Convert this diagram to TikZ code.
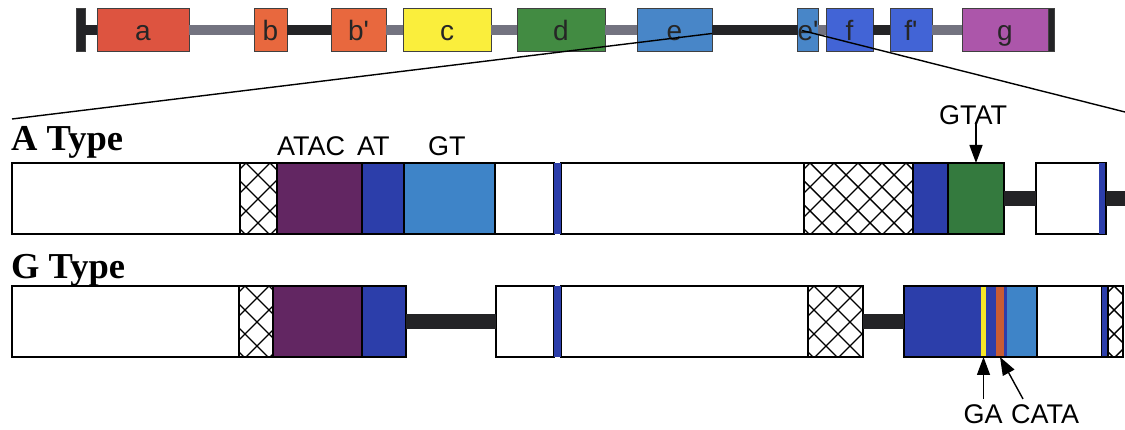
\documentclass[tikz,border=0pt]{standalone}
\usepackage{fontspec}
\setmainfont{Liberation Serif}
\setsansfont{Liberation Sans}[Ligatures=TeXOff]
\usetikzlibrary{arrows.meta,calc}
\definecolor{exA}{RGB}{221,84,64}
\definecolor{exB}{RGB}{232,104,62}
\definecolor{exC}{RGB}{250,238,60}
\definecolor{exD}{RGB}{66,139,66}
\definecolor{exE}{RGB}{72,134,200}
\definecolor{exF}{RGB}{66,100,214}
\definecolor{exG}{RGB}{172,86,170}
\definecolor{intG}{RGB}{115,115,128}
\definecolor{intK}{RGB}{35,35,38}
\definecolor{purp}{RGB}{98,38,98}
\definecolor{dblue}{RGB}{44,62,170}
\definecolor{lblue}{RGB}{62,132,200}
\definecolor{dgreen}{RGB}{52,122,62}
\definecolor{yel}{RGB}{245,230,40}
\definecolor{ora}{RGB}{200,92,52}
\newcommand{\seg}[5]{\node[seg,fill=#5,minimum width={(#3)-(#2)},anchor=north west] (#1) at (#2,#4) {};}
\newcommand{\stripe}[5]{\node[seg,draw=none,fill=#5,minimum width={(#3)-(#2)},anchor=north west] (#1) at (#2,#4) {};}
\newcommand{\hseg}[4]{\node[hatchbox,minimum width={(#3)-(#2)},anchor=north west] (#1) at (#2,#4) {};}
\begin{document}
\begin{tikzpicture}[x=1pt,y=-1pt,
  exon/.style={draw=black!75, line width=1pt, inner sep=0pt, outer sep=0pt, minimum height=43pt,
    font=\sffamily\fontsize{28}{28}\selectfont, text height=20pt, text depth=0pt, text=black!85},
  intronG/.style={line width=10pt, draw=intG},
  intronK/.style={line width=10pt, draw=intK},
  seg/.style={draw=black, line width=1.2pt, inner sep=0pt, outer sep=0pt, minimum height=71pt},
  hatchbox/.style={seg, fill=white, path picture={
    \foreach \k in {-5,...,14}{
      \draw[line width=1.4pt] ([xshift={\k*24pt+6pt-120pt}, yshift=120pt]path picture bounding box.north west) -- ++(300pt,-300pt);
      \draw[line width=1.4pt] ([xshift={\k*24pt+6pt}, yshift=120pt]path picture bounding box.north west) -- ++(-300pt,-300pt);
    }}},
  bar/.style={line width=15pt, draw=intK},
  zoomline/.style={line width=1.4pt, draw=black},
  seqlab/.style={font=\sffamily\fontsize{27}{27}\selectfont, inner sep=0pt, anchor=base west},
  typelab/.style={font=\bfseries\fontsize{36.5}{36.5}\selectfont, inner sep=0pt, anchor=base west},
  arr/.style={line width=1.4pt, -{Triangle[length=18pt,width=13pt]}}]
\useasboundingbox (0,0) rectangle (1125,430);

% ---- gene overview ----
\node[exon, fill=intK, minimum width=9pt] (lbar) at (80.5,30.5) {};
\node[exon, fill=exA, minimum width=92pt] (a) at (143,30.5) {a};
\node[exon, fill=exB, minimum width=33pt] (b) at (270.5,30.5) {b};
\node[exon, fill=exB, minimum width=55pt] (bp) at (358.5,30.5) {b'};
\node[exon, fill=exC, minimum width=88pt] (c) at (447,30.5) {c};
\node[exon, fill=exD, minimum width=88pt] (d) at (561,30.5) {d};
\node[exon, fill=exE, minimum width=75pt] (e) at (674.5,30.5) {e};
\node[exon, fill=exE, minimum width=18pt] (ep) at (808,30.5) {e'};
\node[exon, fill=exF, minimum width=47pt] (f) at (849.5,30.5) {f};
\node[exon, fill=exF, minimum width=42pt] (fp) at (911,30.5) {f'};
\node[exon, fill=exG, minimum width=86pt] (g) at (1005,30.5) {g};
\node[exon, fill=intK, minimum width=6pt] (rbar) at (1051,30.5) {};
\draw[intronK] (lbar) -- (a);
\draw[intronG] (a) -- (b);
\draw[intronK] (b) -- (bp);
\draw[intronG] (bp) -- (c);
\draw[intronG] (c) -- (d);
\draw[intronG] (d) -- (e);
\draw[intronK] (e) -- (ep);
\draw[intronG] (ep) -- (f);
\draw[intronK] (f) -- (fp);
\draw[intronG] (fp) -- (g);

% ---- zoom lines ----
\coordinate (zL) at (12,119);
\coordinate (zR) at (1125,112);
\draw[zoomline] (zL) -- ([yshift=-3pt]e.east);
\draw[zoomline] ([xshift=-6pt]ep.center) -- (zR);

% ---- A type ----
\node[typelab] (atype) at (11,151) {A Type};
\seg{Aw1}{12}{240}{163}{white}
\hseg{Ah1}{240}{277}{163}
\seg{Apu}{277}{362}{163}{purp}
\seg{Adb}{362}{404}{163}{dblue}
\seg{Alb}{404}{495}{163}{lblue}
\seg{Aw2}{495}{554}{163}{white}
\seg{Aw3}{561}{804}{163}{white}
\stripe{Ast}{554}{561}{163}{dblue}
\hseg{Ah2}{804}{913}{163}
\seg{Adb2}{913}{948}{163}{dblue}
\seg{Agr}{948}{1004}{163}{dgreen}
\seg{Aw4}{1036}{1106}{163}{white}
\stripe{Ast2}{1099}{1106}{163}{dblue}
\draw[line width=1.2pt] (Ast2.north east) -- (Ast2.south east);
\coordinate (Aend) at (1125,198.5);
\draw[bar] (Agr) -- (Aw4);
\draw[bar] (Aw4.east) -- (Aend);
\node[seqlab] (atac) at (277,156) {ATAC};
\node[seqlab] (at) at (357,156) {AT};
\node[seqlab] (gt) at (428,156) {GT};
\node[seqlab, anchor=base] (gtat) at (973,125) {GTAT};
\path (Agr.north) coordinate (gtatTip);
\draw[arr] (gtat.base -| gtatTip) ++(0,-3) -- (gtatTip);

% ---- G type ----
\node[typelab] (gtype) at (11,279) {G Type};
\seg{Gw1}{12}{239}{286}{white}
\hseg{Gh1}{239}{273}{286}
\seg{Gpu}{273}{362}{286}{purp}
\seg{Gdb}{362}{406}{286}{dblue}
\seg{Gw2}{496}{554}{286}{white}
\seg{Gw3}{561}{808}{286}{white}
\stripe{Gst}{554}{561}{286}{dblue}
\hseg{Gh2}{808}{863}{286}
\stripe{Gdb2}{904}{981}{286}{dblue}
\stripe{Gye}{981}{986}{286}{yel}
\stripe{Gd3}{986}{996}{286}{dblue}
\stripe{Gor}{996}{1004}{286}{ora}
\stripe{Gd4}{1004}{1007}{286}{dblue}
\stripe{Glb}{1007}{1037}{286}{lblue}
\seg{Gw4}{1037}{1102}{286}{white}
\stripe{Gst2}{1102}{1108}{286}{dblue}
\hseg{Gh3}{1108}{1123}{286}
\draw[line width=1.2pt] (Gdb2.north west) rectangle (Gh3.south east);
\draw[bar] (Gdb) -- (Gw2);
\draw[bar] (Gh2) -- (Gdb2);
\node[seqlab, anchor=base] (ga) at (983,424) {GA};
\node[seqlab] (cata) at (1011,424) {CATA};
\path (Gye.south) coordinate (gaTip);
\path (Gor.south) coordinate (cataTip);
\draw[arr] (ga.north -| gaTip) ++(0,-6) -- (gaTip);
\draw[arr] (cata.north west) ++(12,-6) -- (cataTip);
\end{tikzpicture}
\end{document}
